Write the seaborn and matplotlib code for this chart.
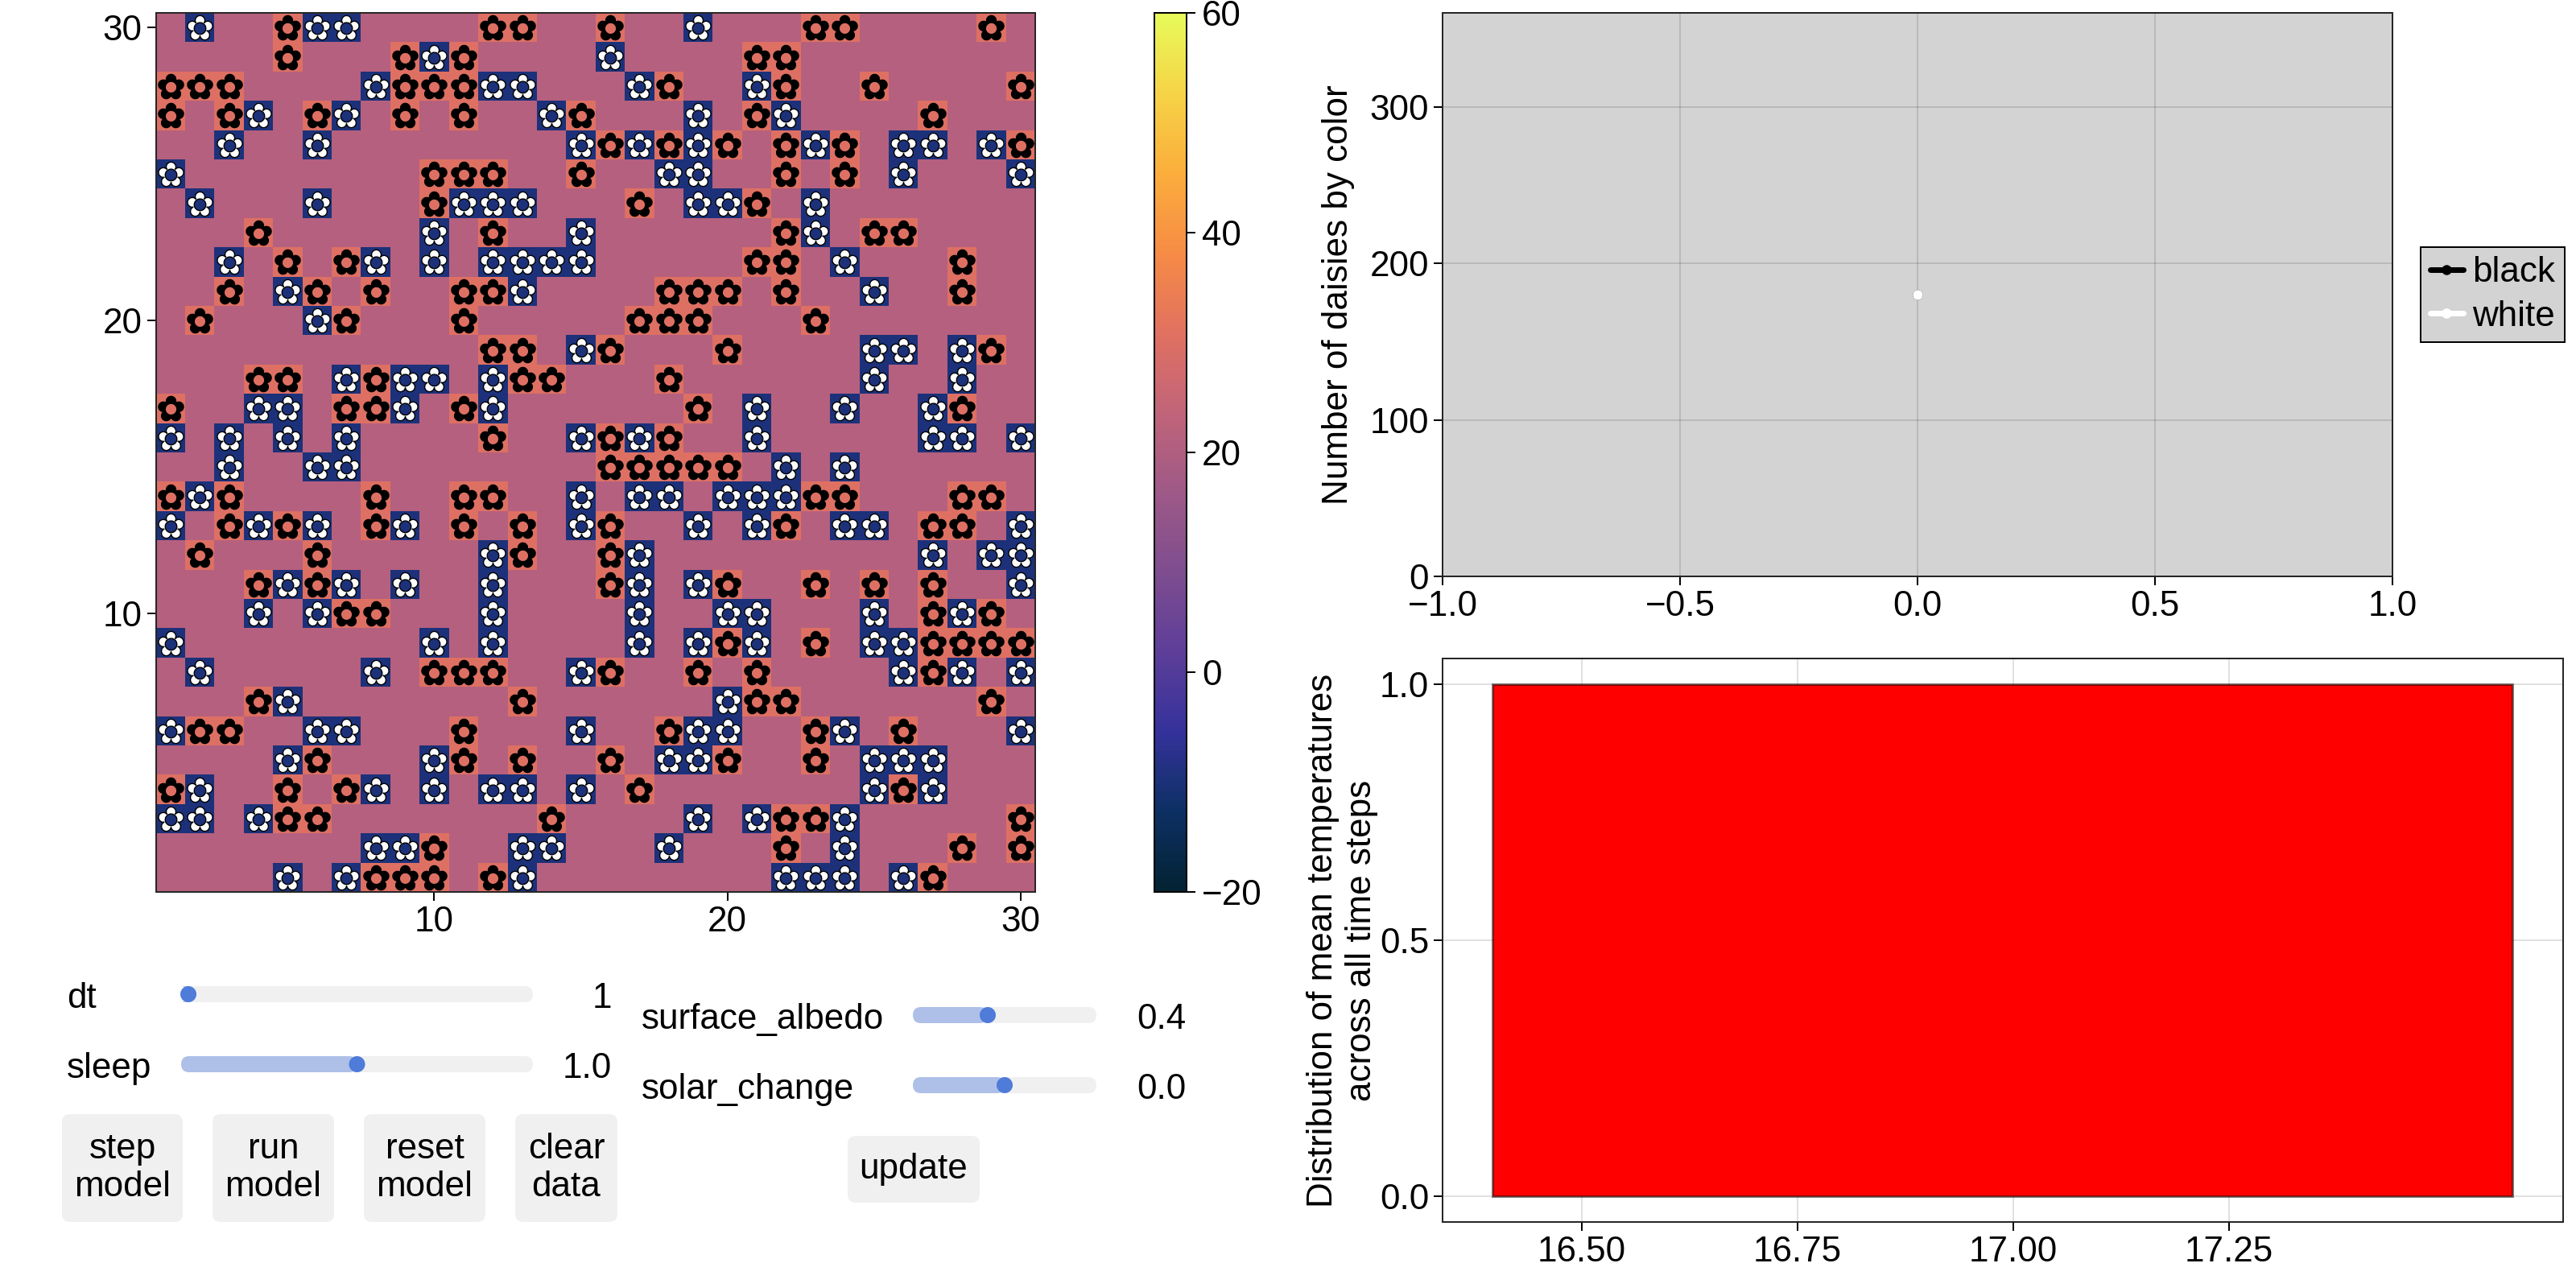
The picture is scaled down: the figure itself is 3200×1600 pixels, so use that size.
"""Daisyworld dashboard: daisy grid, count series, temperature histogram, controls."""

import numpy as np
import pandas as pd
import matplotlib
matplotlib.use("Agg")
import matplotlib.pyplot as plt
from matplotlib.colors import LinearSegmentedColormap
from matplotlib.font_manager import FontProperties
from matplotlib.patches import Circle, FancyBboxPatch
from matplotlib.textpath import TextPath
from matplotlib.transforms import Affine2D
import seaborn as sns

# columns holding a black daisy, per grid row
black_daisies = {
    30: [5, 12, 13, 16, 23, 24, 29], 29: [5, 9, 11, 21, 22],
    28: [1, 2, 3, 9, 10, 11, 18, 22, 25, 30], 27: [1, 3, 6, 9, 11, 15, 21, 27],
    26: [16, 18, 20, 22, 24, 30], 25: [10, 11, 12, 15, 22, 24],
    24: [10, 17, 21], 23: [4, 12, 22, 25, 26], 22: [5, 7, 21, 22, 28],
    21: [3, 6, 8, 11, 12, 18, 19, 20, 22, 28], 20: [2, 7, 11, 17, 18, 19, 23],
    19: [12, 13, 16, 20, 29], 18: [4, 5, 8, 13, 14, 18], 17: [1, 7, 8, 11, 19, 28],
    16: [12, 16, 18], 15: [16, 17, 18, 19, 20],
    14: [1, 3, 8, 11, 12, 23, 24, 28, 29], 13: [3, 5, 8, 11, 13, 16, 22, 27, 28],
    12: [2, 6, 13, 16], 11: [4, 6, 16, 20, 23, 25, 27], 10: [7, 8, 27, 29],
    9: [20, 23, 27, 28, 29, 30], 8: [10, 11, 12, 16, 19, 21, 27],
    7: [4, 13, 21, 22, 29], 6: [2, 3, 11, 18, 23, 26], 5: [6, 11, 13, 16, 20, 23],
    4: [1, 5, 7, 17, 26], 3: [5, 6, 14, 22, 23, 30], 2: [10, 22, 28, 30],
    1: [8, 9, 10, 12, 27],
}
# columns holding a white daisy, per grid row
white_daisies = {
    30: [2, 6, 7, 19], 29: [10, 16], 28: [8, 12, 13, 17, 21],
    27: [4, 7, 14, 19, 22], 26: [3, 6, 15, 17, 19, 23, 26, 27, 29],
    25: [1, 18, 19, 26, 30], 24: [2, 6, 11, 12, 13, 19, 20, 23], 23: [10, 15, 23],
    22: [3, 8, 10, 12, 13, 14, 15, 24], 21: [5, 13, 25], 20: [6],
    19: [15, 25, 26, 28], 18: [7, 9, 10, 12, 25, 28], 17: [4, 5, 9, 12, 21, 24, 27],
    16: [1, 3, 5, 7, 15, 17, 21, 27, 28, 30], 15: [3, 6, 7, 22, 24],
    14: [2, 15, 17, 18, 20, 21, 22], 13: [1, 4, 6, 9, 15, 19, 21, 24, 25, 30],
    12: [12, 17, 27, 29, 30], 11: [5, 7, 9, 12, 17, 19, 30],
    10: [4, 6, 12, 17, 20, 21, 25, 28], 9: [1, 10, 12, 17, 19, 21, 25, 26],
    8: [2, 8, 15, 26, 28, 30], 7: [5, 20], 6: [1, 6, 7, 15, 19, 20, 24, 30],
    5: [5, 10, 18, 19, 25, 26, 27], 4: [2, 8, 10, 12, 13, 15, 25, 27],
    3: [1, 2, 4, 19, 21, 24], 2: [8, 9, 13, 14, 18, 24], 1: [5, 7, 13, 22, 23, 24, 26],
}
surface_temp = 21.0
black_temp = 30.0
white_temp = -10.0

thermal_colors = ["#032333", "#0d3064", "#35329b", "#5d3e99", "#7e4d8f", "#9e5987",
                  "#c16479", "#e17161", "#f68b45", "#fbad3c", "#f6d346", "#e7fa5a"]

steps = [0]
black_count = [180]
white_count = [180]

hist_edges = [16.397, 17.578]
hist_values = [16.99]

# (name, value text, slider position) for each slider column
sliders_left = [("dt", "1", 0.0), ("sleep", "1.0", 0.5)]
sliders_right = [("surface_albedo", "0.4", 0.40), ("solar_change", "0.0", 0.5)]

PX = 1 / 200 * 72  # one output pixel in points
FONT = 44 * PX
LINE = 2 * PX

sns.set_theme(style="ticks")
plt.rcParams["font.family"] = ["Liberation Sans", "DejaVu Sans"]
plt.rcParams["axes.linewidth"] = LINE
plt.rcParams["font.size"] = FONT

fig = plt.figure(figsize=(16, 8), dpi=200, facecolor="white")


def axes_px(left, top, right, bottom, **kwargs):
    return fig.add_axes([left / 3200, 1 - bottom / 1600, (right - left) / 3200, (bottom - top) / 1600], **kwargs)


def style_ticks(ax):
    ax.tick_params(length=11 * PX, width=LINE, labelsize=FONT, pad=6 * PX, color="black", labelcolor="black")


def daisy_frame(rows):
    xs = [c - 0.5 for r, cols in rows.items() for c in cols]
    ys = [30 - r + 0.5 for r, cols in rows.items() for c in cols]
    return pd.DataFrame({"x": xs, "y": ys})


# ---- grid ----
temps = np.full((30, 30), surface_temp)
for r, cols in black_daisies.items():
    for c in cols:
        temps[30 - r, c - 1] = black_temp
for r, cols in white_daisies.items():
    for c in cols:
        temps[30 - r, c - 1] = white_temp

thermal = LinearSegmentedColormap.from_list("thermal", thermal_colors)
ax_grid = axes_px(193.5, 16, 1286, 1108)
ax_cbar = axes_px(1434, 16, 1474, 1108)
sns.heatmap(temps, ax=ax_grid, cbar_ax=ax_cbar, cmap=thermal, vmin=-20, vmax=60, square=False,
            xticklabels=False, yticklabels=False, cbar_kws={"ticks": [-20, 0, 20, 40, 60]})

# same glyph the original marker uses
glyph = TextPath((0, 0), "\u273f", size=1, prop=FontProperties(family="DejaVu Sans"))
box = glyph.get_extents()
flower = glyph.transformed(Affine2D().translate(-(box.x0 + box.x1) / 2, -(box.y0 + box.y1) / 2))

sns.scatterplot(data=daisy_frame(black_daisies), x="x", y="y", ax=ax_grid, marker=flower, s=165,
                color="black", edgecolor="black", linewidth=0.5, legend=False)
sns.scatterplot(data=daisy_frame(white_daisies), x="x", y="y", ax=ax_grid, marker=flower, s=165,
                color="white", edgecolor="black", linewidth=0.5, legend=False)

ax_grid.set_xlim(0, 30)
ax_grid.set_ylim(30, 0)
ax_grid.set_xlabel("")
ax_grid.set_ylabel("")
ax_grid.set_xticks([9.5, 19.5, 29.5], ["10", "20", "30"], rotation=0)
ax_grid.set_yticks([20.5, 10.5, 0.5], ["10", "20", "30"], rotation=0)
style_ticks(ax_grid)
for spine in ax_grid.spines.values():
    spine.set_visible(True)
    spine.set_linewidth(LINE)

ax_cbar.tick_params(length=11 * PX, width=LINE, labelsize=FONT, pad=8 * PX, color="black", labelcolor="black")
cbar = ax_grid.collections[0].colorbar
cbar.outline.set_edgecolor("black")
cbar.outline.set_linewidth(LINE)

# ---- daisy counts ----
ax_top = axes_px(1792, 16, 2972, 716, facecolor="#d3d3d3")
sns.lineplot(x=steps, y=black_count, ax=ax_top, color="black", marker="o", markersize=12.5 * PX,
             markeredgewidth=0, linewidth=7 * PX, label="black", errorbar=None)
sns.lineplot(x=steps, y=white_count, ax=ax_top, color="white", marker="o", markersize=12.5 * PX,
             markeredgewidth=0, linewidth=7 * PX, label="white", errorbar=None)
ax_top.set_xlim(-1, 1)
ax_top.set_ylim(0, 360)
ax_top.set_xticks([-1.0, -0.5, 0.0, 0.5, 1.0])
ax_top.set_yticks([0, 100, 200, 300])
ax_top.grid(True, color="black", alpha=0.12, linewidth=LINE)
ax_top.set_axisbelow(True)
style_ticks(ax_top)
ax_top.set_ylabel("Number of daisies by color", fontsize=FONT, color="black")
ax_top.yaxis.set_label_coords(-0.092, 0.5)
ax_top.legend(loc="center left", bbox_to_anchor=(3007 / 3200, 1 - 366 / 1600), bbox_transform=fig.transFigure,
              borderaxespad=0, fancybox=False, framealpha=1, facecolor="#d3d3d3", edgecolor="black",
              fontsize=FONT, handlelength=0.93, handletextpad=0.25, labelspacing=0.3, borderpad=0.27,
              labelcolor="black").get_frame().set_linewidth(LINE)

# ---- temperature histogram ----
ax_hist = axes_px(1792, 818, 3184, 1518)
sns.histplot(x=hist_values, bins=hist_edges, ax=ax_hist, color="red", alpha=1,
             edgecolor=(0, 0, 0, 0.5), linewidth=3 * PX)
ax_hist.set_xlim(16.339, 17.637)
ax_hist.set_ylim(-0.05, 1.05)
ax_hist.set_xticks([16.50, 16.75, 17.00, 17.25], ["16.50", "16.75", "17.00", "17.25"])
ax_hist.set_yticks([0.0, 0.5, 1.0], ["0.0", "0.5", "1.0"])
ax_hist.grid(True, color="black", alpha=0.12, linewidth=LINE)
ax_hist.set_axisbelow(True)
style_ticks(ax_hist)
ax_hist.set_ylabel("Distribution of mean temperatures\nacross all time steps", fontsize=FONT, color="black",
                   linespacing=1.2)
ax_hist.yaxis.set_label_coords(-0.0577, 0.5)

# ---- controls, laid out in output pixels ----
ax_ui = fig.add_axes([0, 0, 1, 1], zorder=-1)
ax_ui.set_xlim(0, 3200)
ax_ui.set_ylim(1600, 0)
ax_ui.axis("off")


def rounded(x0, y0, x1, y1, radius, color):
    ax_ui.add_patch(FancyBboxPatch((x0 + radius, y0 + radius), x1 - x0 - 2 * radius, y1 - y0 - 2 * radius,
                                   boxstyle=f"round,pad={radius},rounding_size={radius}",
                                   facecolor=color, edgecolor="none"))


def slider(name, value, pos, label_x, track, val_x, y):
    x0, x1 = track
    knob = x0 + 9 + pos * (x1 - x0 - 18)
    rounded(x0, y - 10, x1, y + 10, 10, "#f0f0f0")
    rounded(x0, y - 10, knob, y + 10, 10, "#aec0e8")
    ax_ui.add_patch(Circle((knob, y), 10, facecolor="#4f7bd9", edgecolor="none"))
    ax_ui.text(label_x, y + 1, name, fontsize=FONT, ha="left", va="center_baseline", color="black")
    ax_ui.text(val_x, y + 1, value, fontsize=FONT, ha="right", va="center_baseline", color="black")


for (name, value, pos), y in zip(sliders_left, [1235, 1322]):
    slider(name, value, pos, 83, (225, 662), 760, y)
for (name, value, pos), y in zip(sliders_right, [1261, 1348]):
    slider(name, value, pos, 797, (1134, 1362), 1473, y)

buttons = [("step\nmodel", 77, 227, 1384, 1518), ("run\nmodel", 264, 415, 1384, 1518),
           ("reset\nmodel", 452, 603, 1384, 1518), ("clear\ndata", 640, 767, 1384, 1518),
           ("update", 1053, 1217, 1411, 1494)]
for label, x0, x1, y0, y1 in buttons:
    rounded(x0, y0, x1, y1, 10, "#f0f0f0")
    ax_ui.text((x0 + x1) / 2, (y0 + y1) / 2, label, fontsize=FONT, ha="center", va="center",
               color="black", linespacing=1.2)

fig.savefig("out.png", dpi=200)
